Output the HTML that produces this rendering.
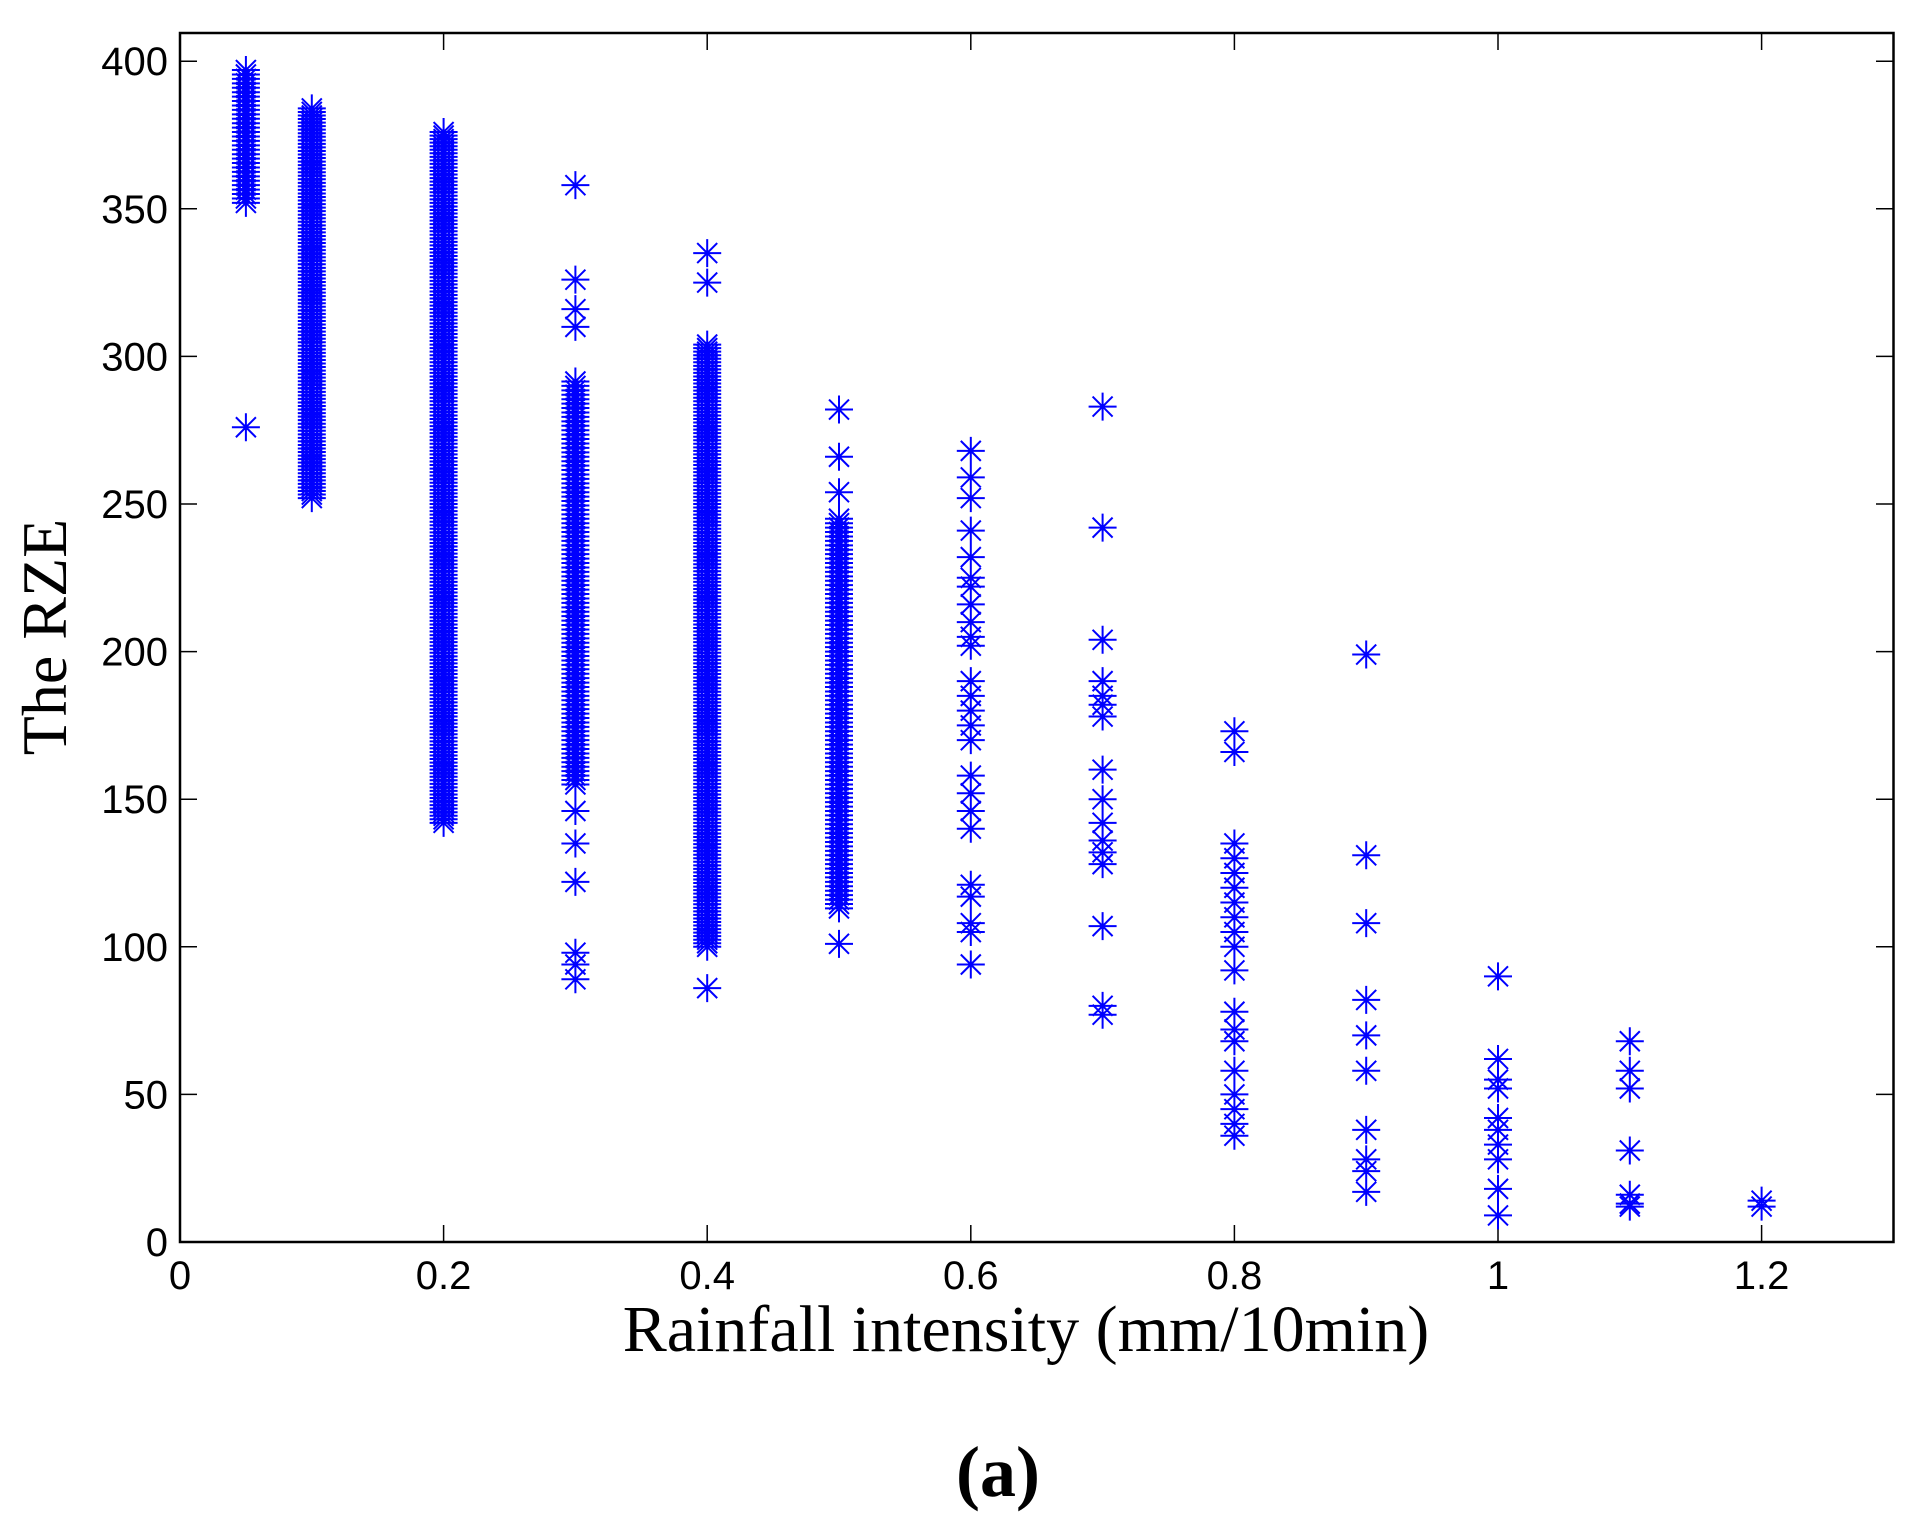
<!DOCTYPE html>
<html><head><meta charset="utf-8"><style>
html,body{margin:0;padding:0;background:#fff;}
svg{display:block;}
</style></head><body>
<svg id="s" width="1919" height="1529" viewBox="0 0 1919 1529" xmlns="http://www.w3.org/2000/svg">
<rect x="0" y="0" width="1919" height="1529" fill="#fff"/>
<g id="ticks" stroke="#000" stroke-width="1.5"></g>
<path id="pts" fill="none" stroke="#0000ff" stroke-width="2"/>
<rect x="180" y="33" width="1713.5" height="1209" fill="none" stroke="#000" stroke-width="2.5"/>
<g font-family="Liberation Sans, sans-serif" font-size="40" fill="#000" id="lbl"></g>
<text x="1026" y="1351" font-family="Liberation Serif, serif" font-size="66" text-anchor="middle">Rainfall intensity (mm/10min)</text>
<text transform="translate(66,637) rotate(-90)" font-family="Liberation Serif, serif" font-size="64" text-anchor="middle">The RZE</text>
<text x="998" y="1496" font-family="Liberation Serif, serif" font-size="72" font-weight="bold" text-anchor="middle">(a)</text>
</svg>
<script>
var X=function(x){return 180+x*1318;},Y=function(v){return 1242-v*2.952;};
var d="";
function m(x,v){var cx=X(x),cy=Y(v);d+="M"+(cx-14)+" "+cy+"h28M"+cx+" "+(cy-14)+"v28M"+(cx-10)+" "+(cy-10)+"l20 20M"+(cx-10)+" "+(cy+10)+"l20 -20";}
function dense(x,a,b,st){for(var v=a;v<=b;v+=st)m(x,v);}
dense(0.05,352,397,1.5);m(0.05,276);
dense(0.1,252,384,1.2);
dense(0.2,142,377,1.2);
dense(0.3,155,292,1.5);[358,326,316,310,146,135,122,98,94,89].forEach(function(v){m(0.3,v)});
dense(0.4,100,305,1.2);[335,325,86].forEach(function(v){m(0.4,v)});
dense(0.5,113,245,1.5);[282,266,254,101].forEach(function(v){m(0.5,v)});
[268,259,252,241,232,225,222,216,210,205,202,190,185,180,175,170,158,152,146,140,121,117,108,105,94].forEach(function(v){m(0.6,v)});
[283,242,204,190,185,182,178,160,150,142,136,132,128,107,80,77].forEach(function(v){m(0.7,v)});
[173,166,135,130,125,120,115,110,105,100,92,78,72,68,58,50,45,40,36].forEach(function(v){m(0.8,v)});
[199,131,108,82,70,58,38,28,24,17].forEach(function(v){m(0.9,v)});
[90,62,55,52,42,38,33,28,18,9].forEach(function(v){m(1.0,v)});
[68,58,52,31,16,13,12].forEach(function(v){m(1.1,v)});
[14,12].forEach(function(v){m(1.2,v)});
document.getElementById("pts").setAttribute("d",d);
var t="",l="";
for(var i=0;i<=8;i++){var y=Y(i*50);t+='<line x1="180" y1="'+y+'" x2="197" y2="'+y+'"/><line x1="1876" y1="'+y+'" x2="1893" y2="'+y+'"/>';
l+='<text x="168" y="'+(y+14)+'" text-anchor="end">'+(i*50)+'</text>';}
var xl=["0","0.2","0.4","0.6","0.8","1","1.2"];
for(var j=0;j<=6;j++){var x=X(j*0.2);t+='<line x1="'+x+'" y1="1242" x2="'+x+'" y2="1225"/><line x1="'+x+'" y1="33" x2="'+x+'" y2="50"/>';
l+='<text x="'+x+'" y="1289" text-anchor="middle">'+xl[j]+'</text>';}
document.getElementById("ticks").innerHTML=t;
document.getElementById("lbl").innerHTML=l;
</script>
</body></html>
